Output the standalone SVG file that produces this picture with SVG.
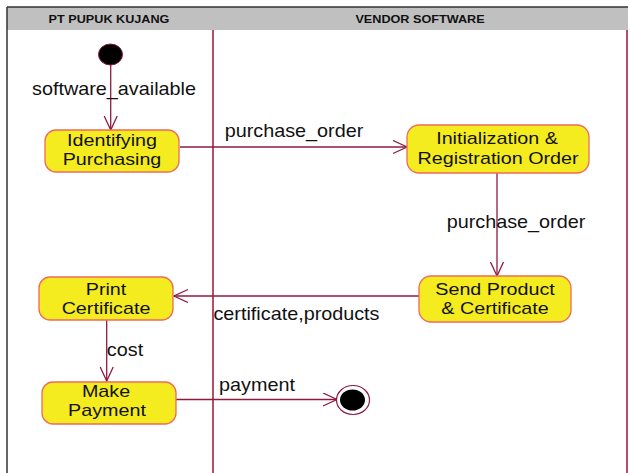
<svg xmlns="http://www.w3.org/2000/svg" width="630" height="473" viewBox="0 0 630 473">
  <style>
    .lane-head { fill: #c0c0c0; }
    .frame { stroke: #333333; stroke-width: 1.5; fill: none; }
    .lane-line { stroke: #b64e6a; stroke-width: 2; fill: none; }
    .head-text { font-family: "Liberation Sans", Arial, sans-serif; font-weight: bold; font-size: 11.5px; fill: #111111; text-anchor: middle; }
    .state rect { fill: #f5ec1f; stroke: #ee6a5c; stroke-width: 1.3; }
    .label { font-family: "Liberation Sans", Arial, sans-serif; font-size: 18px; fill: #111111; text-anchor: middle; }
    .state .label { font-size: 17px; }
    .edge { stroke: #8e1b3f; stroke-width: 1.3; fill: none; }
    .arrow { stroke: #8e1b3f; stroke-width: 1.3; fill: none; }
  </style>
  <defs>
    <marker id="open-arrow" markerUnits="userSpaceOnUse" markerWidth="18" markerHeight="16" refX="15" refY="7" orient="auto">
      <path class="arrow" d="M1,0.5 L15,7 L1,13.5"/>
    </marker>
  </defs>

  <rect width="630" height="473" fill="#ffffff"/>

  <!-- swimlanes -->
  <g id="lanes">
    <rect class="lane-head" x="7" y="7" width="621" height="23"/>
    <line class="frame" x1="7" y1="7" x2="628" y2="7"/>
    <line class="frame" x1="7" y1="7" x2="7" y2="473"/>
    <line class="lane-line" x1="213" y1="30" x2="213" y2="473"/>
    <line class="lane-line" x1="627" y1="30" x2="627" y2="473"/>
    <text class="head-text" transform="translate(109,23) scale(1.1,1)">PT PUPUK KUJANG</text>
    <text class="head-text" transform="translate(420,23) scale(1.1,1)">VENDOR SOFTWARE</text>
  </g>

  <!-- transitions -->
  <g id="connectors">
    <line class="edge" x1="110.7" y1="65" x2="110.7" y2="130" marker-end="url(#open-arrow)"/>
    <line class="edge" x1="180" y1="147" x2="407" y2="147" marker-end="url(#open-arrow)"/>
    <line class="edge" x1="497" y1="173" x2="497" y2="276" marker-end="url(#open-arrow)"/>
    <line class="edge" x1="419" y1="296" x2="174" y2="296" marker-end="url(#open-arrow)"/>
    <line class="edge" x1="106.7" y1="320" x2="106.7" y2="381" marker-end="url(#open-arrow)"/>
    <line class="edge" x1="176" y1="399.5" x2="337" y2="399.5" marker-end="url(#open-arrow)"/>

    <text class="label" transform="translate(114,95) scale(1.1,1)">software_available</text>
    <text class="label" transform="translate(294,137) scale(1.1,1)">purchase_order</text>
    <text class="label" transform="translate(516,228) scale(1.1,1)">purchase_order</text>
    <text class="label" transform="translate(296.5,320) scale(1.1,1)">certificate,products</text>
    <text class="label" transform="translate(125,356) scale(1.1,1)">cost</text>
    <text class="label" transform="translate(257,391) scale(1.1,1)">payment</text>
  </g>

  <!-- initial state -->
  <g id="start">
    <ellipse cx="110.5" cy="54.5" rx="12" ry="10.5" fill="#000000" stroke="#8e1b3f" stroke-width="1"/>
  </g>

  <g id="identifying-purchasing" class="state">
    <rect x="45" y="130" width="134" height="42" rx="11" ry="11"/>
    <text class="label" transform="translate(112,146) scale(1.16,1)">Identifying</text>
    <text class="label" transform="translate(112,165) scale(1.16,1)">Purchasing</text>
  </g>

  <g id="initialization-registration" class="state">
    <rect x="407" y="125" width="182" height="48" rx="12" ry="12"/>
    <text class="label" transform="translate(497,144) scale(1.16,1)">Initialization &amp;</text>
    <text class="label" transform="translate(498,164) scale(1.16,1)">Registration Order</text>
  </g>

  <g id="send-product" class="state">
    <rect x="419" y="276" width="152" height="46" rx="12" ry="12"/>
    <text class="label" transform="translate(495,295) scale(1.16,1)">Send Product</text>
    <text class="label" transform="translate(495,314) scale(1.16,1)">&amp; Certificate</text>
  </g>

  <g id="print-certificate" class="state">
    <rect x="39" y="277" width="134" height="43" rx="11" ry="11"/>
    <text class="label" transform="translate(106,295) scale(1.16,1)">Print</text>
    <text class="label" transform="translate(106,314) scale(1.16,1)">Certificate</text>
  </g>

  <g id="make-payment" class="state">
    <rect x="42" y="382" width="134" height="42" rx="11" ry="11"/>
    <text class="label" transform="translate(106,397) scale(1.16,1)">Make</text>
    <text class="label" transform="translate(107,416) scale(1.16,1)">Payment</text>
  </g>

  <!-- final state -->
  <g id="end">
    <ellipse cx="353" cy="400" rx="16.5" ry="14.5" fill="#ffffff" stroke="#8e1b3f" stroke-width="1.2"/>
    <ellipse cx="352.5" cy="400" rx="12.5" ry="10.5" fill="#000000"/>
  </g>
</svg>
